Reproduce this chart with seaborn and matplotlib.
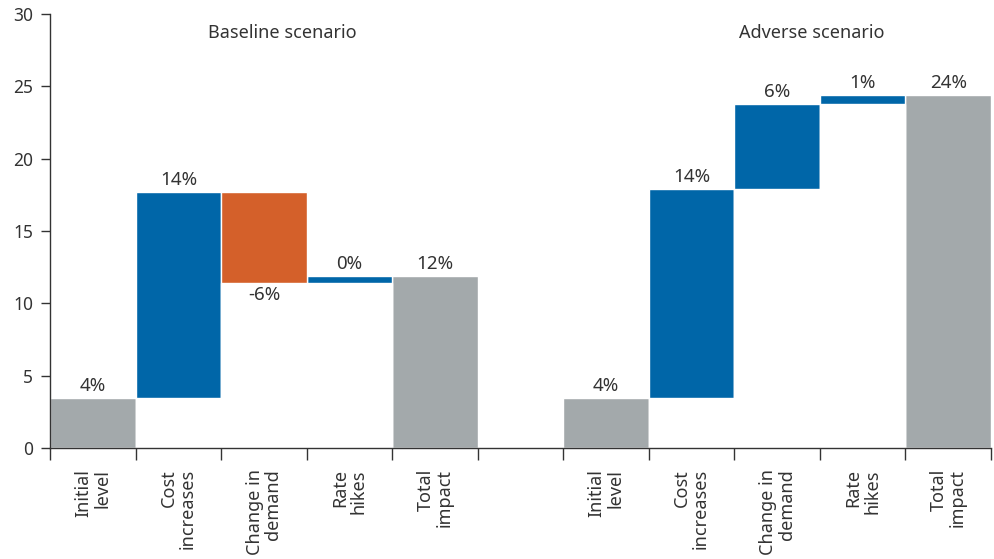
import matplotlib
matplotlib.use("Agg")
import matplotlib.pyplot as plt
import numpy as np
import pandas as pd
import seaborn as sns

# Waterfall steps (percentage-point contributions) for each scenario
step_names = ["Initial\nlevel", "Cost\nincreases", "Change in\ndemand", "Rate\nhikes", "Total\nimpact"]
baseline_steps = [3.5, 14.2, -6.3, 0.5]
adverse_steps = [3.5, 14.4, 5.9, 0.6]
scenario_titles = ["Baseline scenario", "Adverse scenario"]

# Slot positions along the x axis (slot 5 is left empty as a separator)
baseline_slots = [0, 1, 2, 3, 4]
adverse_slots = [6, 7, 8, 9, 10]

GREY = "#A3A9AB"
BLUE = "#0066A8"
ORANGE = "#D4602A"
TEXT = "#333333"

sns.set_style("white")
plt.rcParams["font.family"] = ["Noto Sans", "DejaVu Sans"]
plt.rcParams["text.color"] = TEXT


def waterfall_rows(steps, slots):
    rows = []
    level = 0.0
    for i, (v, s) in enumerate(zip(steps, slots)):
        if i == 0:
            rows.append(dict(pos=s, bottom=0.0, top=v, value=v, color=GREY))
            level = v
        else:
            new_level = level + v
            rows.append(dict(pos=s, bottom=min(level, new_level), top=max(level, new_level),
                             value=v, color=BLUE if v >= 0 else ORANGE))
            level = new_level
    rows.append(dict(pos=slots[-1], bottom=0.0, top=level, value=level, color=GREY))
    return rows


df = pd.DataFrame(waterfall_rows(baseline_steps, baseline_slots)
                  + waterfall_rows(adverse_steps, adverse_slots))

fig = plt.figure(figsize=(9.95, 5.59), dpi=100)
ax = fig.add_axes([0.0503, 0.198, 0.9457, 0.7775])

# Full-height bars up to each running level, coloured by type
sns.barplot(data=df, x="pos", y="top", hue="color",
            palette={c: c for c in (GREY, BLUE, ORANGE)},
            native_scale=True, width=1, errorbar=None, saturation=1,
            edgecolor="white", linewidth=1.0, legend=False, ax=ax)
# Blank out the part below each floating bar
sns.barplot(data=df, x="pos", y="bottom", color="white",
            native_scale=True, width=1, errorbar=None, saturation=1,
            edgecolor="white", linewidth=1.0, ax=ax)

# Value labels: above rising bars, below falling bars
for _, r in df.iterrows():
    label = f"{r['value']:.0f}%"
    if r["value"] >= 0:
        ax.annotate(label, (r["pos"], r["top"]), xytext=(0, 2),
                    textcoords="offset points", ha="center", va="bottom",
                    fontsize=13.5, color=TEXT)
    else:
        ax.annotate(label, (r["pos"], r["bottom"]), xytext=(0, -2),
                    textcoords="offset points", ha="center", va="top",
                    fontsize=13.5, color=TEXT)

# Scenario headings
ax.text(2.21, 28.7, scenario_titles[0], ha="center", va="center", fontsize=13, color=TEXT)
ax.text(8.4, 28.7, scenario_titles[1], ha="center", va="center", fontsize=13, color=TEXT)

ax.set_xlim(-0.5, 10.5)
ax.set_ylim(0, 30)
ax.set_yticks(np.arange(0, 31, 5))
ax.set_xlabel("")
ax.set_ylabel("")

# Boundary ticks between slots, category names at slot centres
ax.set_xticks(np.arange(-0.5, 11, 1.0))
ax.set_xticklabels([])
centres = baseline_slots + adverse_slots
ax.set_xticks(centres, minor=True)
ax.set_xticklabels(step_names + step_names, minor=True, rotation=90,
                   multialignment="right", va="top", ha="center", linespacing=1.05)

ax.tick_params(axis="x", which="major", direction="out", length=8.6, width=1.0,
               color=TEXT, bottom=True)
ax.tick_params(axis="x", which="minor", length=0, pad=15, labelsize=13,
               labelcolor=TEXT, bottom=True)
ax.tick_params(axis="y", direction="out", length=6.5, width=1.0, color=TEXT,
               pad=5.5, labelsize=12.5, labelcolor=TEXT, left=True)

sns.despine(ax=ax)
for side in ("left", "bottom"):
    ax.spines[side].set_color(TEXT)
    ax.spines[side].set_linewidth(1.0)

fig.savefig("out.png", dpi=100)
